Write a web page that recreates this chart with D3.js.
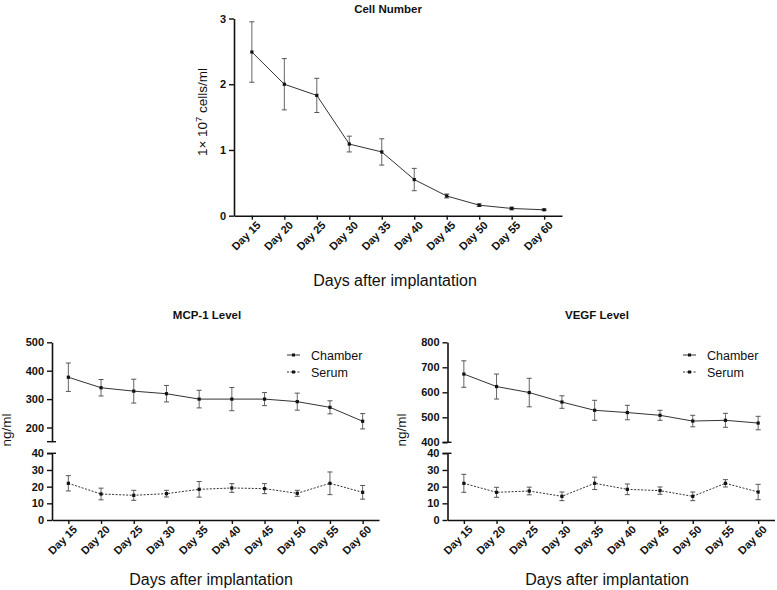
<!DOCTYPE html>
<html>
<head>
<meta charset="utf-8">
<script src="https://cdn.jsdelivr.net/npm/d3@7"></script>
<style>
  body { margin: 0; background: #fff; }
  svg { display: block; font-family: "Liberation Sans", Arial, Helvetica, sans-serif; }
</style>
</head>
<body>
<div id="chart"></div>
<script>
const days = ["Day 15", "Day 20", "Day 25", "Day 30", "Day 35", "Day 40", "Day 45", "Day 50", "Day 55", "Day 60"];

const cellMean = [2.49, 2.00, 1.83, 1.09, 0.97, 0.55, 0.30, 0.16, 0.11, 0.09];
const cellErr = [0.46, 0.39, 0.26, 0.12, 0.20, 0.17, 0.03, 0.02, 0.02, 0.01];
const cellTicks = [0, 1, 2, 3];

const mcpChamber = [377, 340, 328, 319, 300, 300, 300, 291, 271, 222];
const mcpChamberErr = [50, 29, 42, 29, 31, 41, 23, 30, 23, 27];
const mcpSerum = [22, 15.6, 14.8, 15.8, 18.4, 19.2, 18.8, 16, 22, 16.6];
const mcpSerumErr = [4.6, 3.5, 3, 2, 4.7, 2.6, 3, 1.8, 6.8, 4.1];
const mcpUpperTicks = [200, 300, 400, 500];

const vegfChamber = [673, 623, 599, 561, 528, 519, 508, 485, 488, 477];
const vegfChamberErr = [53, 50, 57, 25, 40, 29, 20, 23, 28, 27];
const vegfSerum = [22, 16.6, 17.4, 14.2, 22, 18.4, 17.6, 14.2, 22, 16.8];
const vegfSerumErr = [5.4, 3, 2.3, 2.6, 3.7, 3.2, 2.2, 2.6, 2.2, 4.6];
const vegfUpperTicks = [400, 500, 600, 700, 800];

const lowerTicks = [0, 10, 20, 30, 40];

const W = 777, H = 590;
const svg = d3.select("#chart").append("svg").attr("width", W).attr("height", H);

function styleAxis(g) {
  g.attr("font-family", null);
  g.selectAll(".domain").attr("stroke", "#111").attr("stroke-width", 1.6);
  g.selectAll(".tick line").attr("stroke", "#111").attr("stroke-width", 1.4);
  g.selectAll(".tick text").attr("fill", "#111").attr("font-size", 11).attr("font-weight", "bold");
}

function drawXAxis(x, y0, titleX, titleY) {
  const g = svg.append("g").attr("transform", `translate(0,${y0})`)
    .call(d3.axisBottom(x).tickSizeInner(4).tickSizeOuter(0));
  styleAxis(g);
  g.selectAll(".tick text")
    .attr("text-anchor", "end")
    .attr("dx", "0.2em").attr("dy", "0.5em")
    .attr("transform", "rotate(-45) translate(-3,1)");
  svg.append("text").attr("x", titleX).attr("y", titleY)
    .attr("text-anchor", "middle").attr("font-size", 16).attr("fill", "#111")
    .text("Days after implantation");
}

function drawYAxis(y, ticks, x0) {
  const g = svg.append("g").attr("transform", `translate(${x0},0)`)
    .call(d3.axisLeft(y).tickValues(ticks).tickFormat(d3.format("d"))
      .tickSizeInner(5).tickSizeOuter(0).tickPadding(3));
  styleAxis(g);
  return g;
}

function breakMark(x0, yPos) {
  svg.append("line").attr("x1", x0 - 5).attr("x2", x0 + 4)
    .attr("y1", yPos).attr("y2", yPos)
    .attr("stroke", "#111").attr("stroke-width", 1.4);
}

function drawSeries(x, y, mean, err, dashed) {
  const g = svg.append("g");
  const pts = days.map((d, i) => ({ d, m: mean[i], e: err[i] }));
  g.selectAll("line.err").data(pts).enter().append("line")
    .attr("x1", p => x(p.d)).attr("x2", p => x(p.d))
    .attr("y1", p => y(p.m - p.e)).attr("y2", p => y(p.m + p.e))
    .attr("stroke", "#666").attr("stroke-width", 1);
  [-1, 1].forEach(s => {
    g.selectAll("line.cap" + s).data(pts).enter().append("line")
      .attr("x1", p => x(p.d) - 2.5).attr("x2", p => x(p.d) + 2.5)
      .attr("y1", p => y(p.m + s * p.e)).attr("y2", p => y(p.m + s * p.e))
      .attr("stroke", "#555").attr("stroke-width", 1);
  });
  const line = d3.line().x(p => x(p.d)).y(p => y(p.m));
  g.append("path").datum(pts).attr("d", line)
    .attr("fill", "none").attr("stroke", "#333").attr("stroke-width", 1)
    .attr("stroke-dasharray", dashed ? "2,1.5" : null);
  g.selectAll("rect").data(pts).enter().append("rect")
    .attr("x", p => x(p.d) - 1.6).attr("y", p => y(p.m) - 1.6)
    .attr("width", 3.2).attr("height", 3.2).attr("fill", "#111");
}

function legend(x0, y0) {
  [["Chamber", false], ["Serum", true]].forEach(([name, dashed], i) => {
    const yy = y0 + i * 17;
    svg.append("line").attr("x1", x0).attr("x2", x0 + 13).attr("y1", yy).attr("y2", yy)
      .attr("stroke", "#333").attr("stroke-width", 1)
      .attr("stroke-dasharray", dashed ? "2,1.5" : null);
    svg.append("rect").attr("x", x0 + 5).attr("y", yy - 1.5).attr("width", 3).attr("height", 3).attr("fill", "#111");
    svg.append("text").attr("x", x0 + 24).attr("y", yy + 4.5)
      .attr("font-size", 12.5).attr("fill", "#111").text(name);
  });
}

function title(txt, x0, y0) {
  svg.append("text").attr("x", x0).attr("y", y0).attr("text-anchor", "middle")
    .attr("font-size", 11.5).attr("font-weight", "bold").attr("fill", "#111").text(txt);
}

function yLabel(x0, y0, fn) {
  const t = svg.append("text").attr("transform", `translate(${x0},${y0}) rotate(-90)`)
    .attr("text-anchor", "middle").attr("font-size", 13.5).attr("fill", "#111");
  fn(t);
}

// ---- Top: cell number
{
  const x = d3.scalePoint().domain(days).range([234, 562]).padding(0.55);
  const y = d3.scaleLinear().domain([0, 3]).range([215.7, 18.5]);
  drawYAxis(y, cellTicks, 234);
  drawXAxis(x, 215.7, 395, 286);
  drawSeries(x, y, cellMean, cellErr, false);
  title("Cell Number", 388, 13);
  yLabel(207, 112, t => {
    t.append("tspan").text("1\u00d7 10");
    t.append("tspan").attr("dy", -5).attr("font-size", 9.5).text("7");
    t.append("tspan").attr("dy", 5).text(" cells/ml");
  });
}

// ---- broken-axis panels
function brokenPanel(opts) {
  const x = d3.scalePoint().domain(days).range(opts.xRange).padding(0.5);
  const x0 = opts.xRange[0];
  const yUp = d3.scaleLinear().domain(opts.upDomain).range([opts.upBottom, 342.3]);
  const yLo = d3.scaleLinear().domain([0, 40]).range([520, 453.3]);
  drawYAxis(yUp, opts.upTicks, x0);
  breakMark(x0, opts.upBottom);
  drawYAxis(yLo, lowerTicks, x0);
  breakMark(x0, 453.3);
  drawXAxis(x, 520, opts.titleX, 585);
  drawSeries(x, yUp, opts.chamber, opts.chamberErr, false);
  drawSeries(x, yLo, opts.serum, opts.serumErr, true);
  title(opts.title, opts.headX, 319);
  legend(opts.legendX, 355);
  yLabel(opts.labelX, 430, t => t.text("ng/ml"));
}

brokenPanel({
  xRange: [52, 379], upDomain: [150, 500], upBottom: 441.7, upTicks: mcpUpperTicks,
  chamber: mcpChamber, chamberErr: mcpChamberErr, serum: mcpSerum, serumErr: mcpSerumErr,
  title: "MCP-1 Level", headX: 207, legendX: 287, labelX: 11, titleX: 211
});

brokenPanel({
  xRange: [447.5, 774.5], upDomain: [400, 800], upBottom: 442.3, upTicks: vegfUpperTicks,
  chamber: vegfChamber, chamberErr: vegfChamberErr, serum: vegfSerum, serumErr: vegfSerumErr,
  title: "VEGF Level", headX: 597, legendX: 683, labelX: 406, titleX: 607
});
</script>
</body>
</html>
